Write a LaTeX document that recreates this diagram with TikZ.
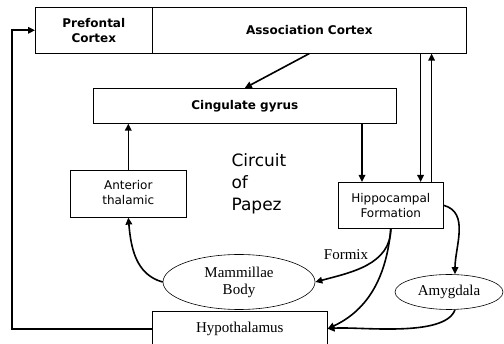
\documentclass[tikz,border=0pt]{standalone}
\usepackage{fontspec}
\setmainfont{Liberation Serif}
\setsansfont{DejaVu Sans}
\usepackage{tikz}
\usetikzlibrary{arrows.meta,positioning,shapes.geometric}

\begin{document}
\begin{tikzpicture}[x=1pt,y=-1pt,font=\sffamily,
  box/.style={draw,line width=0.6pt,inner sep=0pt,anchor=north west,align=center},
  hdr/.style={font=\sffamily\bfseries\fontsize{12}{15}\selectfont},
  small/.style={font=\sffamily\fontsize{12}{14.5}\selectfont},
  oval/.style={draw,ellipse,line width=0.6pt,inner sep=0pt,align=center,font=\rmfamily\fontsize{15}{17}\selectfont},
  link/.style={-{Triangle[length=7pt,width=6.5pt]},line width=1.6pt}]
\useasboundingbox (0,0) rectangle (504,344);
\node[box,hdr,minimum width=117pt,minimum height=46pt] (pfc) at (35,7) {Prefontal\\Cortex};
\node[box,hdr,minimum width=314pt,minimum height=46pt] (assoc) at (152,7) {Association Cortex};
\node[box,hdr,minimum width=303pt,minimum height=35pt] (cing) at (93,88) {Cingulate gyrus};
\node[box,small,minimum width=116pt,minimum height=47pt] (thal) at (70,170) {};
\node[small,align=center,anchor=north] (thaltxt) at (thal.north) [yshift=-7pt] {Anterior\\thalamic};
\node[box,small,minimum width=105pt,minimum height=46pt] (hippo) at (338,182) {Hippocampal\\Formation};
\node[font=\sffamily\fontsize{17}{22}\selectfont,align=left,anchor=north west] (papez) at (228,150) {Circuit\\of\\Papez};
\node[oval,minimum width=152pt,minimum height=55pt] (mam) at (239,282) {Mammillae\\Body};
\node[oval,minimum width=108pt,minimum height=35pt] (amy) at (449,292) {Amygdala};
\node[box,font=\rmfamily\fontsize{15}{17}\selectfont,minimum width=175pt,minimum height=35pt] (hypo) at (152,311) {Hypothalamus};
\node[font=\rmfamily\fontsize{15}{17}\selectfont] (formix) at (346,255) {Formix};

\draw[link] (assoc.south) -- (cing.north);
\draw[link] ([xshift=24pt]hippo.north west |- cing.south) -- ([xshift=24pt]hippo.north west);
\draw[link] ([xshift=-46pt]assoc.south east) -- ([xshift=-46pt]assoc.south east |- hippo.north);
\draw[link] ([xshift=-12pt]hippo.north east) -- ([xshift=-12pt]hippo.north east |- assoc.south);
\draw[link] (thal.north) -- (thal.north |- cing.south);
\draw[link] (mam.west) to[out=165,in=-85] (thal.south);
\draw[link] (hippo.south) to[out=-90,in=15] (mam.east);
\draw[link] (hippo.south) to[out=-95,in=25] (hypo.east);
\draw[link] (hippo.east) to[out=-15,in=90] ([xshift=6pt]amy.north);
\draw[link] ([xshift=6pt]amy.south) to[out=-110,in=5,looseness=0.6] (hypo.east);
\draw[link] (hypo.west) -- ++(-140,0) |- (pfc.west);
\end{tikzpicture}
\end{document}
